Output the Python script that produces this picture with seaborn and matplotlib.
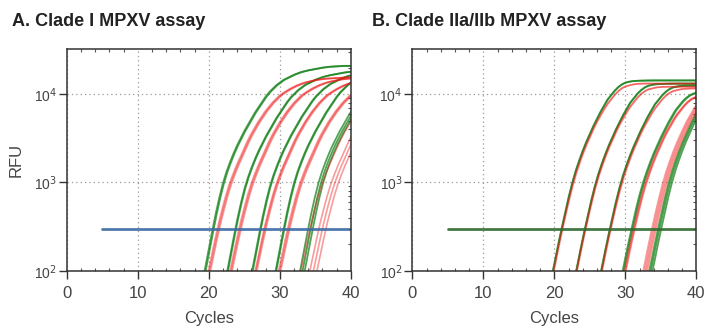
import numpy as np
import pandas as pd
import matplotlib.pyplot as plt
import matplotlib.ticker as mticker
import seaborn as sns

# amplification cycles of the template curves (half cycles over the rise)
cycles = [18.0, 18.5, 19.0, 19.5, 20.0, 20.5, 21.0, 21.5, 22.0, 22.5, 23.0, 23.5,
          24.0, 24.5, 25.0, 25.5, 26.0, 26.5, 27.0, 27.5, 28.0, 28.5, 29.0, 29.5,
          30.0, 30.5, 31.0, 31.5, 32.0, 33, 34, 35, 36, 37, 38, 39, 40]

# log10 RFU of the earliest curve of each dye
a_green_log = [1.40, 1.61, 1.82, 2.03, 2.24, 2.45, 2.65, 2.83, 2.99, 3.12, 3.23, 3.33,
               3.42, 3.50, 3.58, 3.65, 3.72, 3.79, 3.85, 3.91, 3.97, 4.02, 4.06, 4.10,
               4.13, 4.16, 4.18, 4.20, 4.22, 4.25, 4.27, 4.285, 4.30, 4.31, 4.315, 4.32, 4.32]
a_red_log = [1.38, 1.58, 1.78, 1.98, 2.17, 2.36, 2.54, 2.70, 2.85, 2.98, 3.09, 3.19,
             3.28, 3.37, 3.46, 3.54, 3.61, 3.68, 3.74, 3.80, 3.85, 3.90, 3.94, 3.98,
             4.01, 4.035, 4.06, 4.08, 4.10, 4.13, 4.15, 4.165, 4.175, 4.18, 4.185, 4.19, 4.19]
b_green_log = [1.30, 1.49, 1.69, 1.89, 2.08, 2.28, 2.47, 2.65, 2.83, 2.99, 3.13, 3.25,
               3.36, 3.46, 3.55, 3.64, 3.72, 3.80, 3.87, 3.94, 3.99, 4.04, 4.08, 4.11,
               4.13, 4.14, 4.147, 4.15, 4.152, 4.154, 4.155, 4.155, 4.155, 4.155, 4.155,
               4.155, 4.155]
b_red_log = [1.30, 1.49, 1.69, 1.88, 2.07, 2.27, 2.46, 2.64, 2.81, 2.97, 3.11, 3.23,
             3.34, 3.44, 3.53, 3.62, 3.70, 3.77, 3.84, 3.90, 3.95, 4.00, 4.04, 4.07,
             4.09, 4.10, 4.11, 4.115, 4.118, 4.12, 4.12, 4.12, 4.12, 4.12, 4.12, 4.12, 4.12]

# delay (cycles) of each replicate behind the earliest curve, and its end-point gain
a_green_ct = [0.0, 0.15, 3.06, 3.16, 6.58, 6.68, 10.0, 10.1, 13.45, 13.8, 14.1]
a_green_gain = [1.0, 1.0, 0.88, 0.88, 0.9, 0.9, 1.0, 1.0, 1.0, 1.0, 1.0]
a_red_ct = [0.4, 0.55, 0.7, 3.45, 3.6, 3.75, 7.0, 7.1, 7.25, 10.3, 10.45, 10.6,
            13.45, 14.7, 15.2, 15.7]
a_red_gain = [1.0] * 16
b_green_ct = [0.0, 0.05, 3.19, 3.23, 6.65, 6.7, 9.52, 9.67, 13.6, 13.8, 14.05]
b_green_gain = [1.0, 1.0, 0.92, 0.92, 0.88, 0.88, 0.75, 0.75, 1.0, 1.0, 1.0]
b_red_ct = [0.05, 0.15, 3.21, 3.31, 6.7, 6.8, 9.77, 9.87, 9.97, 12.7, 12.9, 13.1, 13.3]
b_red_gain = [1.0, 1.0, 0.92, 0.92, 0.88, 0.88, 0.75, 0.75, 0.75, 1.0, 1.0, 1.0, 1.0]

threshold_rfu = 295
threshold_start = 5
threshold_end = 40

titles = ["A. Clade I MPXV assay", "B. Clade IIa/IIb MPXV assay"]
threshold_colors = ["#3d6aa6", "#2f6b2f"]


def curves(log_vals, shifts, gains, dye):
    frames = []
    for i, (ct, g) in enumerate(zip(shifts, gains)):
        frames.append(pd.DataFrame({
            "cycle": np.array(cycles) + ct,
            "rfu": g * 10 ** np.array(log_vals),
            "curve": f"{dye}{i}",
        }))
    return pd.concat(frames, ignore_index=True)


panels = [
    (curves(a_green_log, a_green_ct, a_green_gain, "g"),
     curves(a_red_log, a_red_ct, a_red_gain, "r")),
    (curves(b_green_log, b_green_ct, b_green_gain, "g"),
     curves(b_red_log, b_red_ct, b_red_gain, "r")),
]

sns.set_style("white")
plt.rcParams["font.family"] = ["Liberation Sans", "DejaVu Sans"]
ink = "#444444"

fig = plt.figure(figsize=(7.21, 3.29), dpi=100)
lefts = [66.7 / 721, 412.3 / 721]
width = 284.0 / 721
bottom = 58.3 / 329
height = 221.4 / 329

for k, (green, red) in enumerate(panels):
    ax = fig.add_axes([lefts[k], bottom, width, height])
    sns.lineplot(data=green, x="cycle", y="rfu", units="curve", estimator=None,
                 color="#1a841f", alpha=0.75, lw=1.3, ax=ax, legend=False)
    sns.lineplot(data=red, x="cycle", y="rfu", units="curve", estimator=None,
                 color="#f01414", alpha=0.42, lw=1.2, ax=ax, legend=False)
    sns.lineplot(x=[threshold_start, threshold_end], y=[threshold_rfu, threshold_rfu],
                 color=threshold_colors[k], lw=2.0, alpha=0.9, ax=ax)

    ax.set_yscale("log")
    ax.set_xlim(0, 40)
    ax.set_ylim(100, 32200)
    ax.set_xticks([0, 10, 20, 30, 40])
    ax.xaxis.set_minor_locator(mticker.MultipleLocator(2))
    ax.set_yticks([100, 1000, 10000])
    ax.set_yticklabels(["10$^2$", "10$^3$", "10$^4$"])
    ax.yaxis.set_minor_locator(mticker.LogLocator(base=10, subs=np.arange(2, 10)))
    ax.yaxis.set_minor_formatter(mticker.NullFormatter())

    ax.grid(True, which="major", ls=(0, (1, 2.5)), color="#9a9a9a", lw=0.9)
    ax.tick_params(which="major", direction="out", length=6, width=1, color="#333333",
                   top=False, right=False, left=True, bottom=True)
    ax.tick_params(axis="x", which="major", labelsize=12, labelcolor=ink, pad=5)
    ax.tick_params(axis="y", which="major", labelsize=10, labelcolor=ink, pad=1)
    ax.tick_params(which="minor", direction="in", length=2.5, width=0.8,
                   color="#555555", top=True, right=True, left=False, bottom=True)
    for s in ax.spines.values():
        s.set_color("#333333")
        s.set_linewidth(1.1)

    ax.set_xlabel("Cycles", fontsize=12, color=ink)
    ax.xaxis.set_label_coords(0.5, -0.18)
    if k == 0:
        ax.set_ylabel("RFU", fontsize=12, color=ink)
        ax.yaxis.set_label_coords(-0.15, 0.5)
    else:
        ax.set_ylabel("")

fig.text(12 / 721, 1 - 26 / 329, titles[0], fontsize=13, weight="bold", color="#222222")
fig.text(372 / 721, 1 - 26 / 329, titles[1], fontsize=13, weight="bold", color="#222222")

fig.savefig("out.png", dpi=100)
